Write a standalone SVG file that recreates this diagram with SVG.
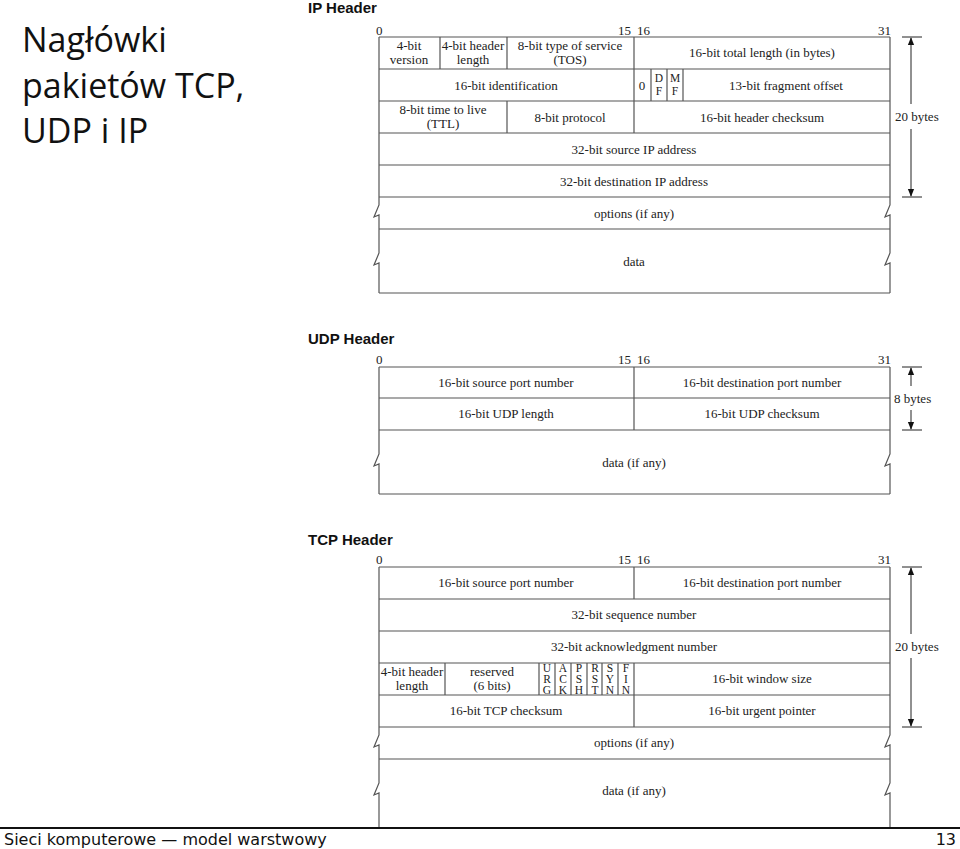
<svg xmlns="http://www.w3.org/2000/svg" width="960" height="849" viewBox="0 0 960 849">
<defs>
<style>
.t{font-family:"Liberation Serif",serif;font-size:13px;fill:#222;text-anchor:middle;dominant-baseline:central}
.s{font-family:"Liberation Serif",serif;font-size:11.5px;fill:#222;text-anchor:middle;dominant-baseline:central}
.n{font-family:"Liberation Serif",serif;font-size:13px;fill:#222;dominant-baseline:central}
.h{font-family:"Liberation Sans",Arial,sans-serif;font-size:15px;font-weight:bold;fill:#111}
.ttl{font-family:"Open Sans","DejaVu Sans",sans-serif;font-size:34px;font-weight:500;fill:#111}
.ln{stroke:#555;stroke-width:1.2;fill:none}
.ar{stroke:#222;stroke-width:1;fill:none}
.f{font-family:"DejaVu Sans","Liberation Sans",sans-serif;font-size:16px;fill:#111}
</style>
<marker id="a" viewBox="0 0 10 10" refX="9" refY="5" markerWidth="8" markerHeight="10" orient="auto"><path d="M0,1 L10,5 L0,9 z" fill="#111"/></marker>
</defs>
<rect width="960" height="849" fill="#fff"/>
<g id="title">
<text class="ttl" x="22" y="52">Nagłówki</text>
<text class="ttl" x="22" y="98">pakietów TCP,</text>
<text class="ttl" x="22" y="143">UDP i IP</text>
</g>

<g id="ip">
<text class="h" x="308" y="13">IP Header</text>
<text class="n" x="376" y="30">0</text><text class="n" x="618" y="30">15</text><text class="n" x="637" y="30">16</text><text class="n" x="878" y="30">31</text>
<path class="ln" d="M379,37 H890 M379,69 H890 M379,101 H890 M379,133 H890 M379,165 H890 M379,197 H890 M379,229 H890 M379,293 H890
M440,37 V69 M507,37 V69 M634,37 V101 M651,69 V101 M667,69 V101 M683,69 V101 M507,101 V133 M634,101 V133
M379,37 V205 L374,217 L379,215 V253 L374,265 L379,263 V293
M890,37 V205 L885,217 L890,215 V253 L885,265 L890,263 V293"/>
<text class="t" x="409" y="45.5">4-bit</text><text class="t" x="409" y="59.5">version</text>
<text class="t" x="473" y="45.5">4-bit header</text><text class="t" x="473" y="59.5">length</text>
<text class="t" x="570" y="45.5">8-bit type of service</text><text class="t" x="570" y="59.5">(TOS)</text>
<text class="t" x="762" y="52">16-bit total length (in bytes)</text>
<text class="t" x="506" y="85">16-bit identification</text>
<text class="t" x="642" y="85">0</text>
<text class="s" x="659" y="78">D</text><text class="s" x="659" y="91">F</text>
<text class="s" x="675" y="78">M</text><text class="s" x="675" y="91">F</text>
<text class="t" x="786" y="85">13-bit fragment offset</text>
<text class="t" x="443" y="109.5">8-bit time to live</text><text class="t" x="443" y="123.5">(TTL)</text>
<text class="t" x="570" y="117">8-bit protocol</text>
<text class="t" x="762" y="117">16-bit header checksum</text>
<text class="t" x="634" y="149">32-bit source IP address</text>
<text class="t" x="634" y="181">32-bit destination IP address</text>
<text class="t" x="634" y="213">options (if any)</text>
<text class="t" x="634" y="261">data</text>
<path class="ar" d="M902,37 H922 M902,197 H922"/>
<path class="ar" d="M911,104 V38" marker-end="url(#a)"/>
<path class="ar" d="M911,129 V196" marker-end="url(#a)"/>
<text class="n" x="895" y="116">20 bytes</text>
</g>

<g id="udp">
<text class="h" x="308" y="344">UDP Header</text>
<text class="n" x="376" y="359">0</text><text class="n" x="618" y="359">15</text><text class="n" x="637" y="359">16</text><text class="n" x="878" y="359">31</text>
<path class="ln" d="M379,367 H890 M379,398 H890 M379,430 H890 M379,494 H890 M634,367 V430
M379,367 V454 L374,466 L379,464 V494 M890,367 V454 L885,466 L890,464 V494"/>
<text class="t" x="506" y="382">16-bit source port number</text>
<text class="t" x="762" y="382">16-bit destination port number</text>
<text class="t" x="506" y="413">16-bit UDP length</text>
<text class="t" x="762" y="413">16-bit UDP checksum</text>
<text class="t" x="634" y="462">data (if any)</text>
<path class="ar" d="M902,367 H922 M902,430 H922"/>
<path class="ar" d="M911,386 V368" marker-end="url(#a)"/>
<path class="ar" d="M911,410 V429" marker-end="url(#a)"/>
<text class="n" x="894" y="398">8 bytes</text>
</g>

<g id="tcp">
<text class="h" x="308" y="545">TCP Header</text>
<text class="n" x="376" y="559">0</text><text class="n" x="618" y="559">15</text><text class="n" x="637" y="559">16</text><text class="n" x="878" y="559">31</text>
<path class="ln" d="M379,567 H890 M379,599 H890 M379,631 H890 M379,663 H890 M379,695 H890 M379,727 H890 M379,759 H890
M634,567 V599 M445,663 V695 M539,663 V695 M555,663 V695 M571,663 V695 M587,663 V695 M602,663 V695 M618,663 V695 M634,663 V727
M379,567 V735 L374,747 L379,745 V783 L374,795 L379,793 V828 M890,567 V735 L885,747 L890,745 V783 L885,795 L890,793 V828"/>
<text class="t" x="506" y="582">16-bit source port number</text>
<text class="t" x="762" y="582">16-bit destination port number</text>
<text class="t" x="634" y="614">32-bit sequence number</text>
<text class="t" x="634" y="646">32-bit acknowledgment number</text>
<text class="t" x="412" y="671.5">4-bit header</text><text class="t" x="412" y="685.5">length</text>
<text class="t" x="492" y="671.5">reserved</text><text class="t" x="492" y="685.5">(6 bits)</text>
<text class="s" x="547" y="668">U</text><text class="s" x="547" y="679">R</text><text class="s" x="547" y="690">G</text>
<text class="s" x="563" y="668">A</text><text class="s" x="563" y="679">C</text><text class="s" x="563" y="690">K</text>
<text class="s" x="579" y="668">P</text><text class="s" x="579" y="679">S</text><text class="s" x="579" y="690">H</text>
<text class="s" x="595" y="668">R</text><text class="s" x="595" y="679">S</text><text class="s" x="595" y="690">T</text>
<text class="s" x="610" y="668">S</text><text class="s" x="610" y="679">Y</text><text class="s" x="610" y="690">N</text>
<text class="s" x="626" y="668">F</text><text class="s" x="626" y="679">I</text><text class="s" x="626" y="690">N</text>
<text class="t" x="762" y="678">16-bit window size</text>
<text class="t" x="506" y="710">16-bit TCP checksum</text>
<text class="t" x="762" y="710">16-bit urgent pointer</text>
<text class="t" x="634" y="742">options (if any)</text>
<text class="t" x="634" y="790">data (if any)</text>
<path class="ar" d="M902,567 H922 M902,727 H922"/>
<path class="ar" d="M911,634 V568" marker-end="url(#a)"/>
<path class="ar" d="M911,658 V726" marker-end="url(#a)"/>
<text class="n" x="895" y="646">20 bytes</text>
</g>

<g id="footer">
<line x1="0" y1="828" x2="960" y2="828" stroke="#111" stroke-width="2"/>
<text class="f" x="4" y="845">Sieci komputerowe — model warstwowy</text>
<text class="f" x="956" y="845" text-anchor="end">13</text>
</g>
</svg>
